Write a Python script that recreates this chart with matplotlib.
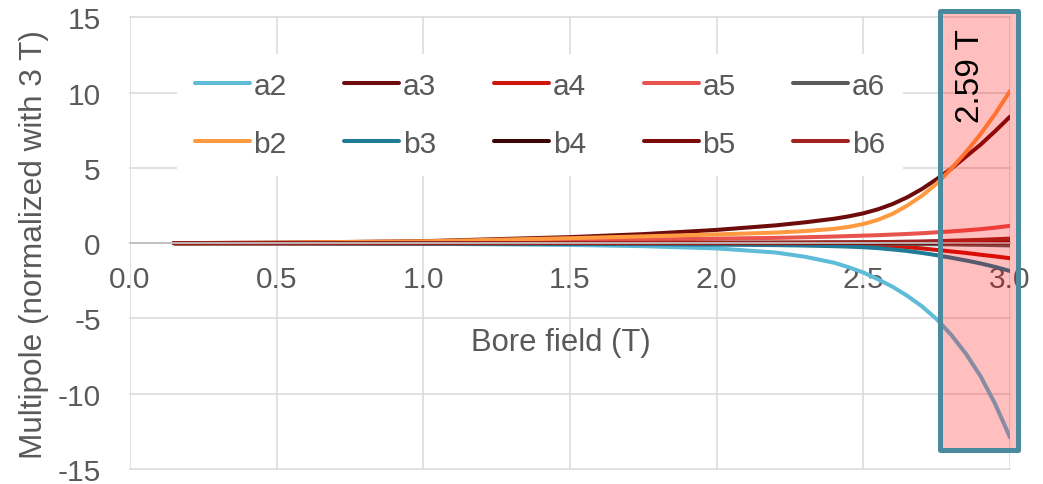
import matplotlib
matplotlib.use("Agg")
import matplotlib.pyplot as plt
from matplotlib.patches import Rectangle

plt.rcParams['font.family'] = ['Liberation Sans', 'DejaVu Sans']
plt.rcParams['axes.unicode_minus'] = False

# bore field (T)
field = [0.15, 0.5, 1.0, 1.5, 1.75, 2.0, 2.2, 2.3, 2.4, 2.45, 2.5, 2.55, 2.6, 2.65,
         2.7, 2.75, 2.8, 2.85, 2.9, 2.95, 3.0]

# multipoles normalized with 3 T
a2 = [0, -0.01, -0.04, -0.12, -0.2, -0.35, -0.62, -0.9, -1.3, -1.6, -1.95, -2.4, -2.9, -3.5,
      -4.2, -5.05, -6.1, -7.35, -8.85, -10.7, -12.9]
a3 = [0, 0.03, 0.13, 0.4, 0.6, 0.88, 1.18, 1.38, 1.62, 1.78, 1.98, 2.25, 2.6, 3.05,
      3.6, 4.25, 4.95, 5.75, 6.55, 7.45, 8.4]
a4 = [0, 0, 0, 0, 0, -0.01, -0.02, -0.03, -0.05, -0.07, -0.1, -0.14, -0.2, -0.27,
      -0.35, -0.45, -0.55, -0.65, -0.77, -0.88, -1.0]
a5 = [0, 0.02, 0.08, 0.18, 0.24, 0.3, 0.35, 0.39, 0.44, 0.47, 0.5, 0.53, 0.57, 0.61,
      0.66, 0.72, 0.78, 0.85, 0.93, 1.03, 1.15]
a6 = [0, 0, 0, 0, 0, 0, -0.01, -0.01, -0.02, -0.02, -0.03, -0.03, -0.04, -0.05,
      -0.06, -0.07, -0.08, -0.1, -0.11, -0.13, -0.15]
b2 = [0, 0.03, 0.12, 0.33, 0.45, 0.58, 0.7, 0.8, 0.95, 1.08, 1.27, 1.55, 1.95, 2.5,
      3.15, 3.95, 4.95, 6.05, 7.25, 8.6, 10.1]
b3 = [0, 0, -0.02, -0.05, -0.07, -0.1, -0.13, -0.16, -0.2, -0.23, -0.27, -0.33, -0.42, -0.52,
      -0.65, -0.8, -0.97, -1.15, -1.35, -1.58, -1.85]
b4 = [0, 0, 0, 0.01, 0.01, 0.02, 0.03, 0.03, 0.04, 0.04, 0.05, 0.05, 0.06, 0.07,
      0.08, 0.1, 0.11, 0.13, 0.15, 0.17, 0.2]
b5 = [0, 0, 0, 0, 0, 0, 0, 0, 0.01, 0.01, 0.01, 0.01, 0.01, 0.02,
      0.02, 0.02, 0.03, 0.03, 0.04, 0.04, 0.05]
b6 = [0, 0, 0, 0.01, 0.01, 0.02, 0.03, 0.04, 0.05, 0.05, 0.06, 0.07, 0.08, 0.1,
      0.11, 0.13, 0.16, 0.19, 0.22, 0.26, 0.3]

names = ['a2', 'a3', 'a4', 'a5', 'a6', 'b2', 'b3', 'b4', 'b5', 'b6']
series = [a2, a3, a4, a5, a6, b2, b3, b4, b5, b6]
colors = ['#5FBCD9', '#6E0C0C', '#D0140A', '#E8534D', '#5A5A5A',
          '#FF9A40', '#217A96', '#3B0504', '#7A0B07', '#A0231D']

xticks = [0.0, 0.5, 1.0, 1.5, 2.0, 2.5, 3.0]
yticks = [-15, -10, -5, 0, 5, 10, 15]

# highlighted region and its note
box_x = [2.763, 3.026]
box_y = [-13.73, 15.39]
note = '2.59 T'

grey = '#595959'
fs = 21.5

fig = plt.figure(figsize=(10.43, 4.85), dpi=100)
ax = fig.add_axes([130 / 1043, 1 - 470 / 485, 880 / 1043, 451.7 / 485])

lines = {}
for n, s, c in zip(names, series, colors):
    lines[n], = ax.plot(field, s, color=c, lw=2.9, solid_capstyle='round',
                        solid_joinstyle='round', label=n)

ax.set_xlim(0, 3)
ax.set_ylim(-15, 15)
ax.set_xticks(xticks)
ax.set_xticklabels([f'{v:.1f}' for v in xticks])
ax.set_yticks(yticks)
ax.set_yticklabels([str(v) for v in yticks])
ax.tick_params(axis='both', length=0, labelsize=fs, labelcolor=grey)
ax.tick_params(axis='x', pad=16)
ax.tick_params(axis='y', pad=21)

ax.grid(True, color='#D9D9D9', lw=1.1)
for gl in ax.get_xgridlines() + ax.get_ygridlines():
    gl.set_clip_on(False)
for side in ['top', 'right', 'left']:
    ax.spines[side].set_visible(False)
ax.spines['bottom'].set_position(('data', 0))
ax.spines['bottom'].set_color('#BFBFBF')
ax.spines['bottom'].set_linewidth(1.3)

ax.set_ylabel('Multipole (normalized with 3 T)', fontsize=22.7, color=grey, labelpad=6)
ax.text(0.489, 0.281, 'Bore field (T)', transform=ax.transAxes, fontsize=22.3,
        color=grey, ha='center', va='center')

# legend: row of a's then row of b's (matplotlib fills by column)
order = ['a2', 'b2', 'a3', 'b3', 'a4', 'b4', 'a5', 'b5', 'a6', 'b6']
leg = ax.legend([lines[n] for n in order], order, ncol=5, loc='upper left',
                bbox_to_anchor=(0.053, 0.919), fontsize=fs, frameon=True,
                fancybox=False, edgecolor='none', facecolor='white', framealpha=1,
                borderpad=0.6, handlelength=1.84, handletextpad=0.13,
                columnspacing=1.93, labelspacing=1.0, borderaxespad=0)
for t in leg.get_texts():
    t.set_color(grey)

w = box_x[1] - box_x[0]
h = box_y[1] - box_y[0]
ax.add_patch(Rectangle((box_x[0], box_y[0]), w, h, facecolor=(1, 0, 0, 0.25),
                       edgecolor='none', zorder=5, clip_on=False))
ax.add_patch(Rectangle((box_x[0], box_y[0]), w, h, fill=False, edgecolor='#4A8A9E',
                       lw=3.6, joinstyle='round', zorder=6, clip_on=False))
ax.text(2.864, 11.17, note, rotation=90, fontsize=24, color='black',
        ha='center', va='center', zorder=7)

fig.savefig('out.png', dpi=100)
